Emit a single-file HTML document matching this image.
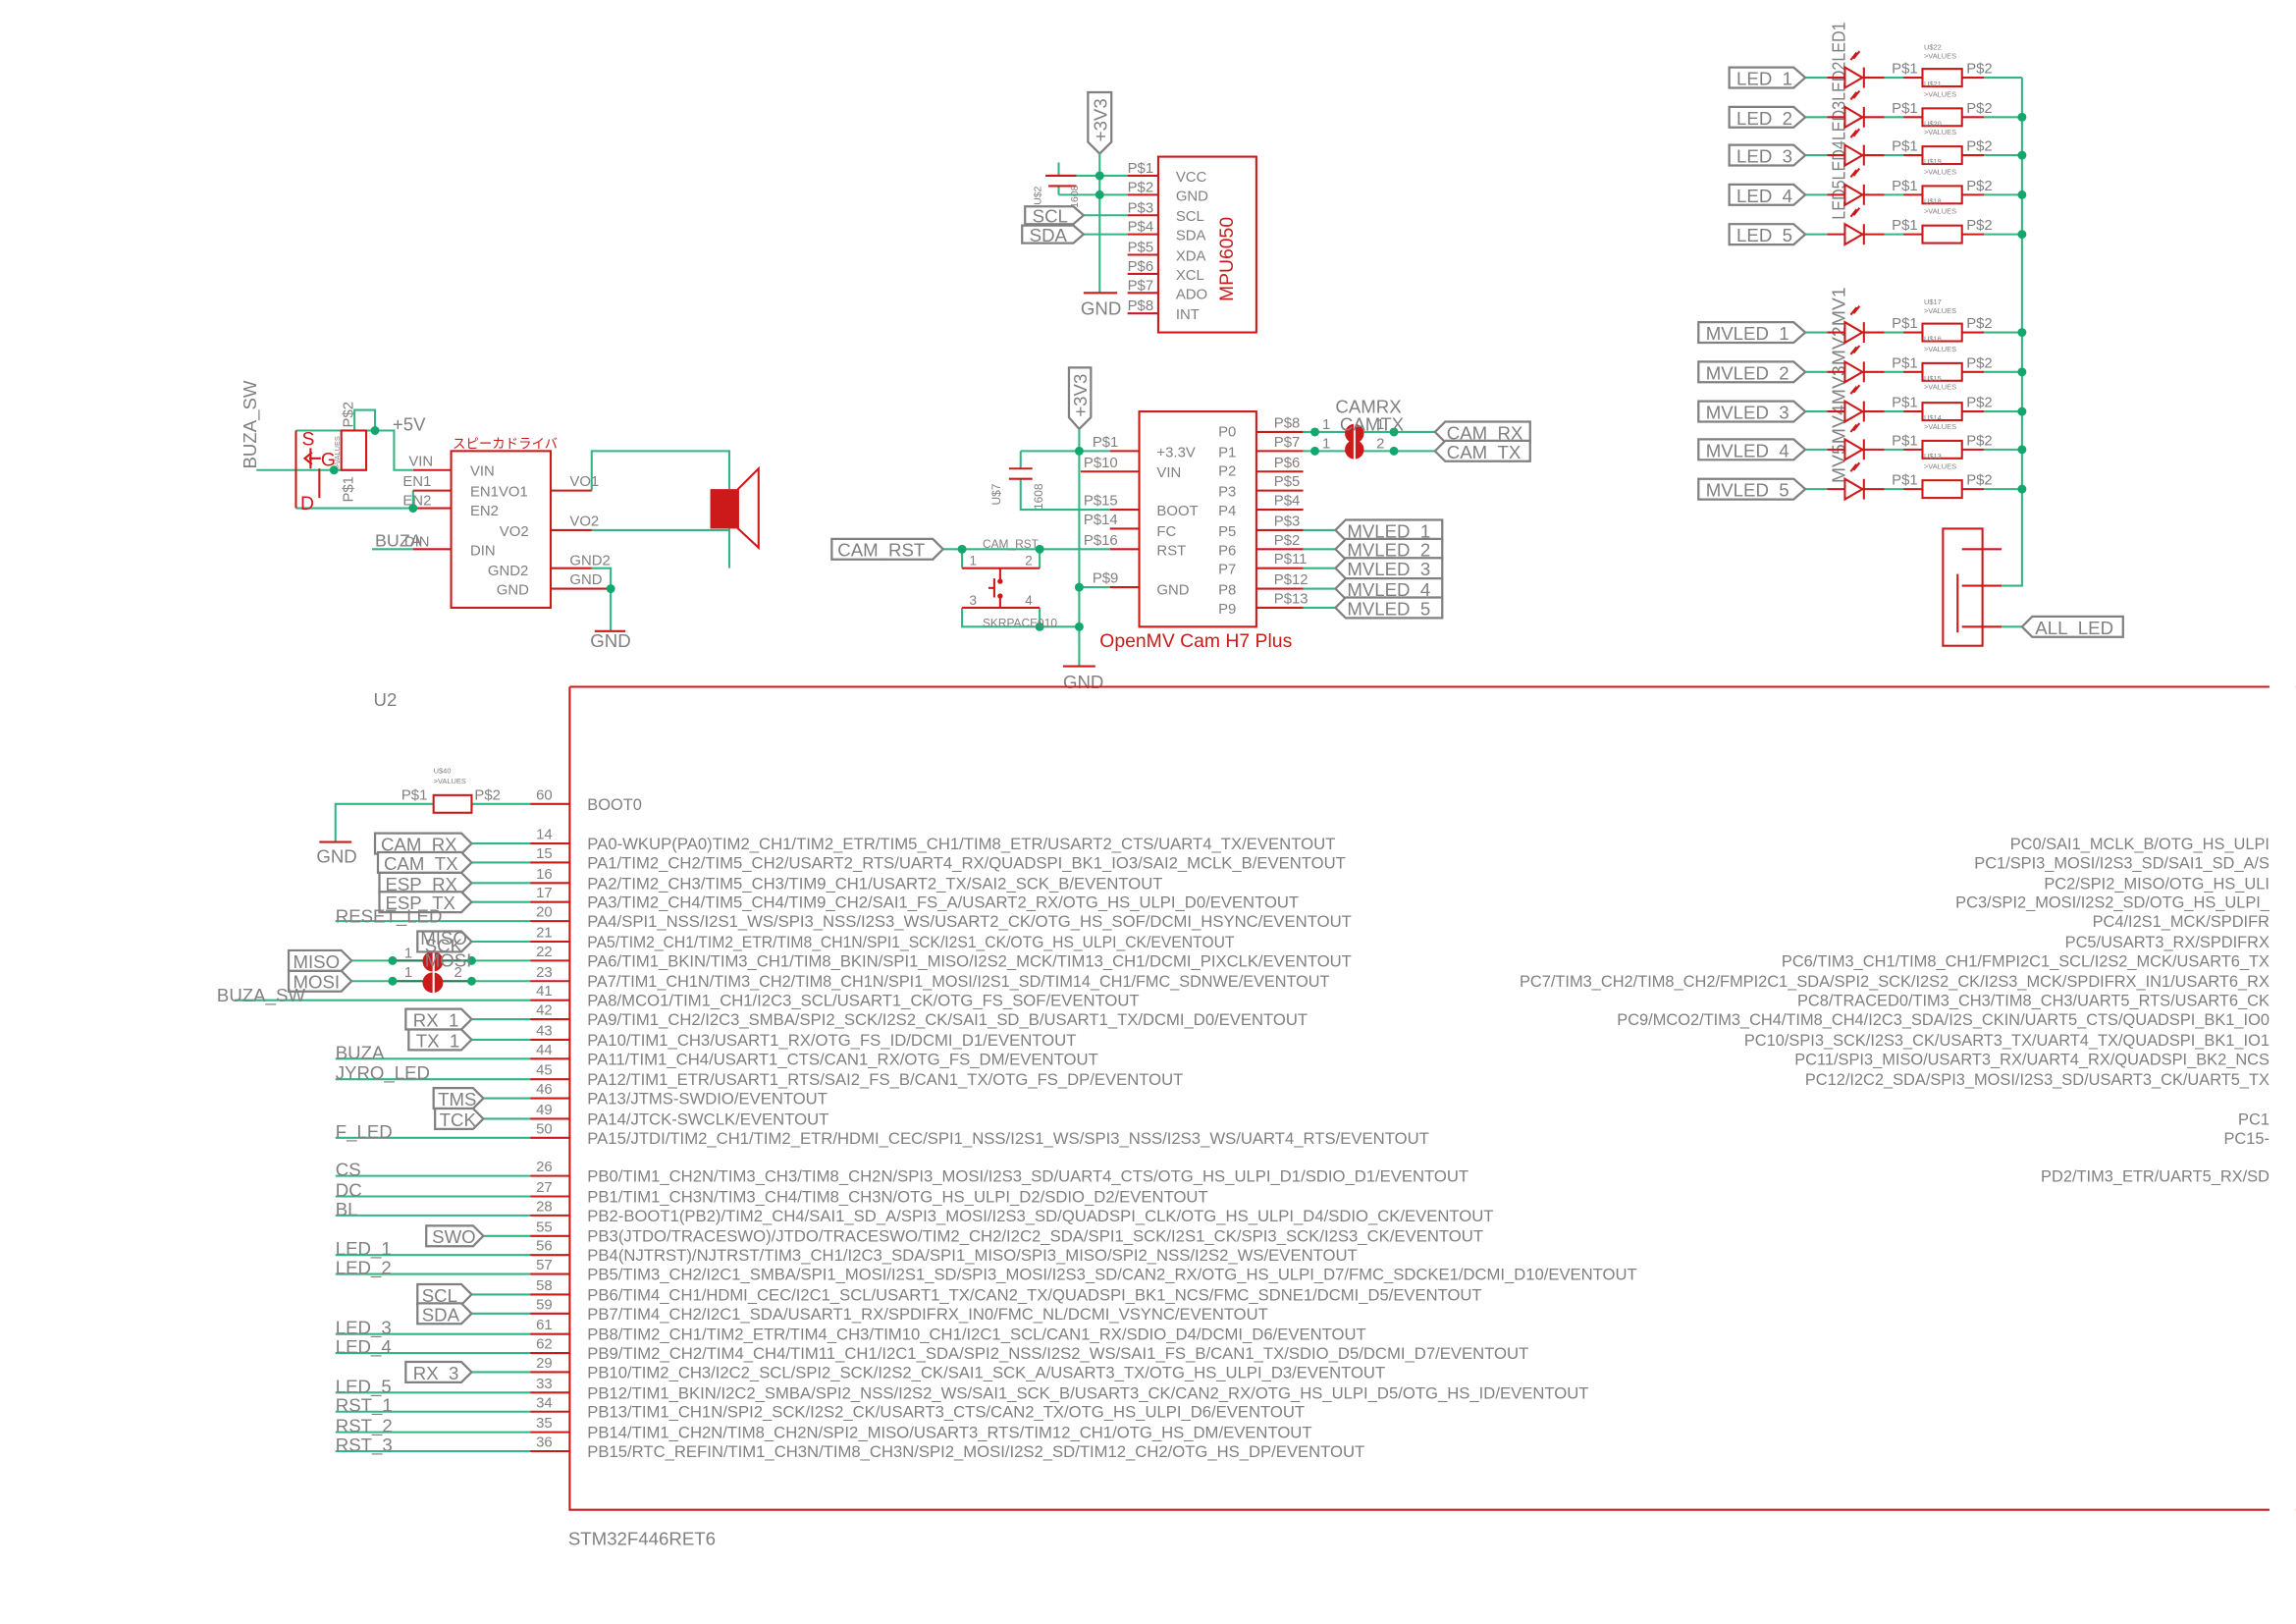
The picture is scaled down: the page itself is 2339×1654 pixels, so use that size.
<!DOCTYPE html>
<html><head><meta charset="utf-8"><style>
html,body{margin:0;padding:0;background:#fff;}
svg{display:block;}
text{font-family:"Liberation Sans","Noto Sans CJK JP",sans-serif;fill:#808080;}
.r{stroke:#cc1a1a;fill:none;stroke-width:1.4;}
.g{stroke:#34b584;fill:none;stroke-width:1.4;}
.b{stroke:#808080;fill:#fff;stroke-width:1.5;}
.rt{fill:#cc1a1a;}
.d{fill:#12a86d;}
.p{font-size:11px;}
.n{font-size:12.5px;}
.s{font-size:10px;}
.tiny{font-size:5px;}
</style></head><body>
<svg width="2339" height="1654" viewBox="0 0 1568 1109" xmlns="http://www.w3.org/2000/svg">
<rect width="1568" height="1109" fill="#fff"/>

<!-- ================= MPU6050 ================= -->
<polygon class="b" points="743,63 759,63 759,97 751,105 743,97"/>
<text class="n" transform="translate(756,82) rotate(-90)" text-anchor="middle">+3V3</text>
<path class="g" d="M751,105V200 M716,120H770 M723,133H770 M723,127V133 M723,111V120 M740,147H770 M740,160H770"/>
<path class="r" d="M714,120H735 M716,127H735 M740,200H763"/>
<circle class="d" cx="751" cy="120" r="3"/><circle class="d" cx="751" cy="133" r="3"/>
<text class="tiny" transform="translate(711,140) rotate(-90)" style="font-size:7px">U$2</text>
<text class="tiny" transform="translate(736,142) rotate(-90)" style="font-size:7px">1608</text>
<polygon class="b" points="700,141 733,141 740,147 733,153 700,153"/>
<text class="n" x="705" y="152">SCL</text>
<polygon class="b" points="698,154 733,154 740,160 733,166 698,166"/>
<text class="n" x="703" y="165">SDA</text>
<text class="n" x="738" y="215">GND</text>
<rect class="r" x="791" y="107" width="67" height="120"/>
<path class="r" d="M770,120H791 M770,133H791 M770,147H791 M770,160H791 M770,174H791 M770,187H791 M770,200H791 M770,214H791"/>
<g class="s"><text x="770" y="118">P$1</text><text x="770" y="131">P$2</text><text x="770" y="145">P$3</text><text x="770" y="158">P$4</text><text x="770" y="172">P$5</text><text x="770" y="185">P$6</text><text x="770" y="198">P$7</text><text x="770" y="212">P$8</text>
<text x="803" y="124">VCC</text><text x="803" y="137">GND</text><text x="803" y="151">SCL</text><text x="803" y="164">SDA</text><text x="803" y="178">XDA</text><text x="803" y="191">XCL</text><text x="803" y="204">ADO</text><text x="803" y="218">INT</text></g>
<text transform="translate(842,177) rotate(-90)" text-anchor="middle" style="font-size:13px;fill:#cc1a1a">MPU6050</text>

<!-- ================= OpenMV ================= -->
<polygon class="b" points="730,251 745,251 745,285 737,293 730,285"/>
<text class="n" transform="translate(742,270) rotate(-90)" text-anchor="middle">+3V3</text>
<path class="g" d="M737,293V455 M697,308H758 M697,308V320 M697,327V348H758 M644,375H758 M657,375V388 M710,375V388 M657,415V428H737 M710,415V428 M737,401H758"/>
<path class="r" d="M689,320H705 M689,327H705 M726,455H748 M657,388H710 M683,388V397 M657,415H710 M683,407V415 M679,395V408 M675,401.5H679"/>
<circle class="rt" cx="683" cy="397" r="1.8"/><circle class="rt" cx="683" cy="407" r="1.8"/>
<circle class="d" cx="737" cy="308" r="3"/><circle class="d" cx="737" cy="401" r="3"/><circle class="d" cx="737" cy="428" r="3"/>
<circle class="d" cx="657" cy="375" r="3"/><circle class="d" cx="710" cy="375" r="3"/><circle class="d" cx="710" cy="428" r="3"/>
<text transform="translate(683,345) rotate(-90)" style="font-size:8px">U$7</text>
<text transform="translate(712,348) rotate(-90)" style="font-size:8px">1608</text>
<polygon class="b" points="568,368 637,368 644,375 637,382 568,382"/>
<text class="n" x="572" y="380">CAM_RST</text>
<text style="font-size:8px" x="671" y="374">CAM_RST</text>
<text style="font-size:9px" x="662" y="386">1</text><text style="font-size:9px" x="700" y="386">2</text>
<text style="font-size:9px" x="662" y="413">3</text><text style="font-size:9px" x="700" y="413">4</text>
<text style="font-size:8px" x="671" y="428">SKRPACE010</text>
<text class="n" x="726" y="470">GND</text>
<rect class="r" x="778" y="281" width="80" height="147"/>
<path class="r" d="M758,308H778 M738,322H778 M758,348H778 M758,361H778 M758,375H778 M758,401H778"/>
<g class="s"><text x="746" y="305">P$1</text><text x="740" y="319">P$10</text><text x="740" y="345">P$15</text><text x="740" y="358">P$14</text><text x="740" y="372">P$16</text><text x="746" y="398">P$9</text>
<text x="790" y="312">+3.3V</text><text x="790" y="326">VIN</text><text x="790" y="352">BOOT</text><text x="790" y="366">FC</text><text x="790" y="379">RST</text><text x="790" y="406">GND</text>
<text x="832" y="298">P0</text><text x="832" y="312">P1</text><text x="832" y="325">P2</text><text x="832" y="339">P3</text><text x="832" y="352">P4</text><text x="832" y="366">P5</text><text x="832" y="379">P6</text><text x="832" y="392">P7</text><text x="832" y="406">P8</text><text x="832" y="419">P9</text>
<text x="870" y="292">P$8</text><text x="870" y="305">P$7</text><text x="870" y="319">P$6</text><text x="870" y="332">P$5</text><text x="870" y="345">P$4</text><text x="870" y="359">P$3</text><text x="870" y="372">P$2</text><text x="870" y="385">P$11</text><text x="870" y="399">P$12</text><text x="870" y="412">P$13</text></g>
<path class="r" d="M858,295H890 M858,308H890 M858,322H890 M858,335H890 M858,348H890 M858,362H890 M858,375H890 M858,388H890 M858,402H890 M858,415H890"/>
<path class="g" d="M890,295H980 M890,308H980 M890,362H912 M890,375H912 M890,388H912 M890,402H912 M890,415H912"/>
<circle class="d" cx="898" cy="295" r="3"/><circle class="d" cx="898" cy="308" r="3"/><circle class="d" cx="952" cy="295" r="3"/><circle class="d" cx="952" cy="308" r="3"/>
<circle class="rt" cx="925" cy="296" r="6.5"/><circle class="rt" cx="925" cy="307" r="6.5"/><rect x="924.4" y="288" width="1.3" height="27" fill="#fff"/>
<text class="n" x="912" y="282">CAMRX</text>
<text class="s" x="903" y="293">1</text><text class="n" x="915" y="294">CAMTX</text><text class="s" x="940" y="293">1</text>
<text class="s" x="903" y="306">1</text><text class="s" x="940" y="306">2</text>
<g>
<polygon class="b" points="980,295 987,288 1045,288 1045,302 987,302"/><text class="n" x="988" y="300">CAM_RX</text>
<polygon class="b" points="980,308 987,301 1045,301 1045,315 987,315"/><text class="n" x="988" y="313">CAM_TX</text>
<polygon class="b" points="912,362 919,355 985,355 985,369 919,369"/><text class="n" x="920" y="367">MVLED_1</text>
<polygon class="b" points="912,375 919,368 985,368 985,382 919,382"/><text class="n" x="920" y="380">MVLED_2</text>
<polygon class="b" points="912,388 919,381 985,381 985,395 919,395"/><text class="n" x="920" y="393">MVLED_3</text>
<polygon class="b" points="912,402 919,395 985,395 985,409 919,409"/><text class="n" x="920" y="407">MVLED_4</text>
<polygon class="b" points="912,415 919,408 985,408 985,422 919,422"/><text class="n" x="920" y="420">MVLED_5</text>
</g>
<text x="751" y="442" style="font-size:13px;fill:#cc1a1a">OpenMV Cam H7 Plus</text>

<!-- ================= Buzzer ================= -->
<text class="n" transform="translate(175,290) rotate(-90)" text-anchor="middle">BUZA_SW</text>
<path class="g" d="M175,321H250 M202,294H269V321H282 M242,294V280H256V294 M202,347H282 M282,335V347 M254,375H282 M404,335V308H498V334 M404,362H498 M498,361V388 M404,388H417V431"/>
<path class="r" d="M202,294V347 M282,321H308 M282,335H308 M282,347H308 M282,375H308 M376,335H404 M376,362H404 M376,388H404 M376,402H417 M406,431H427 M211,313H219 M212,306V320 M213,309L208,313L213,317 M218,320V340"/>
<rect class="r" x="233" y="294" width="17" height="27"/>
<circle class="d" cx="256" cy="294" r="3"/><circle class="d" cx="228" cy="321" r="3"/><circle class="d" cx="282" cy="347" r="3"/><circle class="d" cx="417" cy="402" r="3"/>
<text style="font-size:13px;fill:#cc1a1a" x="206" y="304">S</text>
<text style="font-size:13px;fill:#cc1a1a" x="219" y="318">G</text>
<text style="font-size:13px;fill:#cc1a1a" x="205" y="348">D</text>
<text class="s" transform="translate(241,292) rotate(-90)">P$2</text>
<text class="s" transform="translate(241,343) rotate(-90)">P$1</text>
<text style="font-size:5px" transform="translate(232,320) rotate(-90)">&gt;VALUES</text>
<text class="n" x="268" y="294">+5V</text>
<text style="font-size:9px;fill:#cc1a1a" x="309" y="306">スピーカドライバ</text>
<rect class="r" x="308" y="308" width="68" height="107"/>
<g class="s"><text x="279" y="318">VIN</text><text x="275" y="332">EN1</text><text x="275" y="345">EN2</text><text x="256" y="373" style="font-size:12px">BUZA</text><text x="276" y="373">DIN</text>
<text x="321" y="325">VIN</text><text x="321" y="339">EN1VO1</text><text x="321" y="352">EN2</text><text x="341" y="366">VO2</text><text x="321" y="379">DIN</text><text x="333" y="393">GND2</text><text x="339" y="406">GND</text>
<text x="389" y="332">VO1</text><text x="389" y="359">VO2</text><text x="389" y="386">GND2</text><text x="389" y="399">GND</text></g>
<text class="n" x="403" y="442">GND</text>
<rect x="485" y="334" width="19" height="27" fill="#cc1a1a"/>
<polygon points="504,334 518,320 518,374 504,361" fill="none" stroke="#cc1a1a" stroke-width="1.4"/>

<!-- ================= LEDs ================= -->
<text class="n" transform="translate(1260,150) rotate(-90)" textLength="135" lengthAdjust="spacingAndGlyphs">LED5LED4LED3LED2LED1</text>
<text class="n" transform="translate(1260,330) rotate(-90)" textLength="134" lengthAdjust="spacingAndGlyphs">MV5MV4MV3MV2MV1</text>
<path class="g" d="M1381,53V400H1367 M1367,428H1381"/>
<path class="r" d="M1340,375H1367 M1340,400H1367 M1340,428H1367 M1337,392V432"/>
<rect class="r" x="1327" y="361" width="27" height="80"/>
<polygon class="b" points="1381,428 1388,421 1450,421 1450,435 1388,435"/><text class="n" x="1390" y="433">ALL_LED</text>

<!-- LED rows -->
<g id="ledrows">
<!-- row template repeated -->
<path class="g" d="M1233,53H1248 M1287,53H1300 M1355,53H1381 M1233,80H1248 M1287,80H1300 M1355,80H1381 M1233,106H1248 M1287,106H1300 M1355,106H1381 M1233,133H1248 M1287,133H1300 M1355,133H1381 M1233,160H1248 M1287,160H1300 M1355,160H1381 M1233,227H1248 M1287,227H1300 M1355,227H1381 M1233,254H1248 M1287,254H1300 M1355,254H1381 M1233,281H1248 M1287,281H1300 M1355,281H1381 M1233,307H1248 M1287,307H1300 M1355,307H1381 M1233,334H1248 M1287,334H1300 M1355,334H1381"/>
<path class="r" d="M1248,53H1260 M1273,53H1287 M1300,53H1313 M1340,53H1355 M1260,46V60L1272,53Z M1273,46V60 M1264,41L1268,36L1266,40L1270,35
M1248,80H1260 M1273,80H1287 M1300,80H1313 M1340,80H1355 M1260,73V87L1272,80Z M1273,73V87 M1264,68L1268,63L1266,67L1270,62
M1248,106H1260 M1273,106H1287 M1300,106H1313 M1340,106H1355 M1260,99V113L1272,106Z M1273,99V113 M1264,94L1268,89L1266,93L1270,88
M1248,133H1260 M1273,133H1287 M1300,133H1313 M1340,133H1355 M1260,126V140L1272,133Z M1273,126V140 M1264,121L1268,116L1266,120L1270,115
M1248,160H1260 M1273,160H1287 M1300,160H1313 M1340,160H1355 M1260,153V167L1272,160Z M1273,153V167 M1264,148L1268,143L1266,147L1270,142
M1248,227H1260 M1273,227H1287 M1300,227H1313 M1340,227H1355 M1260,220V234L1272,227Z M1273,220V234 M1264,215L1268,210L1266,214L1270,209
M1248,254H1260 M1273,254H1287 M1300,254H1313 M1340,254H1355 M1260,247V261L1272,254Z M1273,247V261 M1264,242L1268,237L1266,241L1270,236
M1248,281H1260 M1273,281H1287 M1300,281H1313 M1340,281H1355 M1260,274V288L1272,281Z M1273,274V288 M1264,269L1268,264L1266,268L1270,263
M1248,307H1260 M1273,307H1287 M1300,307H1313 M1340,307H1355 M1260,300V314L1272,307Z M1273,300V314 M1264,295L1268,290L1266,294L1270,289
M1248,334H1260 M1273,334H1287 M1300,334H1313 M1340,334H1355 M1260,327V341L1272,334Z M1273,327V341 M1264,322L1268,317L1266,321L1270,316"/>
<g fill="#fff" stroke="#cc1a1a" stroke-width="1.4">
<rect x="1313" y="47" width="27" height="12"/><rect x="1313" y="74" width="27" height="12"/><rect x="1313" y="100" width="27" height="12"/><rect x="1313" y="127" width="27" height="12"/><rect x="1313" y="154" width="27" height="12"/>
<rect x="1313" y="221" width="27" height="12"/><rect x="1313" y="248" width="27" height="12"/><rect x="1313" y="275" width="27" height="12"/><rect x="1313" y="301" width="27" height="12"/><rect x="1313" y="328" width="27" height="12"/>
</g>
<g class="s">
<text x="1292" y="50">P$1</text><text x="1343" y="50">P$2</text>
<text x="1292" y="77">P$1</text><text x="1343" y="77">P$2</text>
<text x="1292" y="103">P$1</text><text x="1343" y="103">P$2</text>
<text x="1292" y="130">P$1</text><text x="1343" y="130">P$2</text>
<text x="1292" y="157">P$1</text><text x="1343" y="157">P$2</text>
<text x="1292" y="224">P$1</text><text x="1343" y="224">P$2</text>
<text x="1292" y="251">P$1</text><text x="1343" y="251">P$2</text>
<text x="1292" y="278">P$1</text><text x="1343" y="278">P$2</text>
<text x="1292" y="304">P$1</text><text x="1343" y="304">P$2</text>
<text x="1292" y="331">P$1</text><text x="1343" y="331">P$2</text>
</g>
<g class="tiny">
<text x="1314" y="34">U$22</text><text x="1314" y="40">&gt;VALUES</text>
<text x="1314" y="59">U$21</text><text x="1314" y="66">&gt;VALUES</text>
<text x="1314" y="86">U$20</text><text x="1314" y="92">&gt;VALUES</text>
<text x="1314" y="112">U$19</text><text x="1314" y="119">&gt;VALUES</text>
<text x="1314" y="139">U$18</text><text x="1314" y="146">&gt;VALUES</text>
<text x="1314" y="208">U$17</text><text x="1314" y="214">&gt;VALUES</text>
<text x="1314" y="233">U$16</text><text x="1314" y="240">&gt;VALUES</text>
<text x="1314" y="260">U$15</text><text x="1314" y="266">&gt;VALUES</text>
<text x="1314" y="287">U$14</text><text x="1314" y="293">&gt;VALUES</text>
<text x="1314" y="313">U$13</text><text x="1314" y="320">&gt;VALUES</text>
</g>
</g>
<g>
<circle class="d" cx="1381" cy="80" r="3"/><circle class="d" cx="1381" cy="106" r="3"/><circle class="d" cx="1381" cy="133" r="3"/><circle class="d" cx="1381" cy="160" r="3"/>
<circle class="d" cx="1381" cy="227" r="3"/><circle class="d" cx="1381" cy="254" r="3"/><circle class="d" cx="1381" cy="281" r="3"/><circle class="d" cx="1381" cy="307" r="3"/><circle class="d" cx="1381" cy="334" r="3"/>
</g>
<g>
<polygon class="b" points="1181,46 1225,46 1233,53 1225,60 1181,60"/><text class="n" x="1186" y="58">LED_1</text>
<polygon class="b" points="1181,73 1225,73 1233,80 1225,87 1181,87"/><text class="n" x="1186" y="85">LED_2</text>
<polygon class="b" points="1181,99 1225,99 1233,106 1225,113 1181,113"/><text class="n" x="1186" y="111">LED_3</text>
<polygon class="b" points="1181,126 1225,126 1233,133 1225,140 1181,140"/><text class="n" x="1186" y="138">LED_4</text>
<polygon class="b" points="1181,153 1225,153 1233,160 1225,167 1181,167"/><text class="n" x="1186" y="165">LED_5</text>
<polygon class="b" points="1160,220 1225,220 1233,227 1225,234 1160,234"/><text class="n" x="1165" y="232">MVLED_1</text>
<polygon class="b" points="1160,247 1225,247 1233,254 1225,261 1160,261"/><text class="n" x="1165" y="259">MVLED_2</text>
<polygon class="b" points="1160,274 1225,274 1233,281 1225,288 1160,288"/><text class="n" x="1165" y="286">MVLED_3</text>
<polygon class="b" points="1160,300 1225,300 1233,307 1225,314 1160,314"/><text class="n" x="1165" y="312">MVLED_4</text>
<polygon class="b" points="1160,327 1225,327 1233,334 1225,341 1160,341"/><text class="n" x="1165" y="339">MVLED_5</text>
</g>

<!-- ================= STM32 ================= -->
<text class="n" x="255" y="482">U2</text>
<text class="n" x="388" y="1055">STM32F446RET6</text>
<path class="r" d="M389,469H1568 M389,469V1031H1568"/>
<!-- pin stubs -->
<path class="r" d="M362,549H389 M362,576H389 M362,589H389 M362,603H389 M362,616H389 M362,629H389 M362,643H389 M362,656H389 M362,670H389 M362,683H389 M362,696H389 M362,710H389 M362,723H389 M362,737H389 M362,750H389 M362,764H389 M362,777H389 M362,803H389 M362,817H389 M362,830H389 M362,844H389 M362,857H389 M362,870H389 M362,884H389 M362,897H389 M362,911H389 M362,924H389 M362,937H389 M362,951H389 M362,964H389 M362,978H389 M362,991H389"/>
<path class="g" d="M229,575V549H296 M322,549H362 M322,576H362 M322,589H362 M322,603H362 M322,616H362 M229,629H362 M322,643H362 M240,656H362 M240,670H362 M160,683H362 M322,696H362 M322,710H362 M229,723H362 M229,737H362 M330,750H362 M330,764H362 M229,777H362 M229,803H362 M229,817H362 M229,830H362 M330,844H362 M229,857H362 M229,870H362 M322,884H362 M322,897H362 M229,911H362 M229,924H362 M322,937H362 M229,951H362 M229,964H362 M229,978H362 M229,991H362"/>
<path stroke="#2a7a55" stroke-width="1.4" d="M268,656H322 M268,670H322"/>
<path class="r" d="M218,575H240"/>
<rect class="r" x="296" y="543" width="26" height="12"/>
<text class="tiny" x="296" y="528">U$40</text><text class="tiny" x="296" y="535">&gt;VALUES</text>
<text class="s" x="274" y="546">P$1</text><text class="s" x="324" y="546">P$2</text>
<text class="n" x="216" y="589">GND</text>
<circle class="d" cx="268" cy="656" r="3"/><circle class="d" cx="322" cy="656" r="3"/><circle class="d" cx="268" cy="670" r="3"/><circle class="d" cx="322" cy="670" r="3"/>
<circle class="rt" cx="295.5" cy="656.5" r="7"/><circle class="rt" cx="295.5" cy="671" r="7"/><rect x="295.3" y="648" width="1.4" height="32" fill="#fff"/>
<text class="s" x="276" y="654">1</text><text class="s" x="276" y="667">1</text><text class="s" x="310" y="667">2</text>
<g class="s">
<text x="366" y="546">60</text><text x="366" y="573">14</text><text x="366" y="586">15</text><text x="366" y="600">16</text><text x="366" y="613">17</text><text x="366" y="626">20</text><text x="366" y="640">21</text><text x="366" y="653">22</text><text x="366" y="667">23</text><text x="366" y="680">41</text><text x="366" y="693">42</text><text x="366" y="707">43</text><text x="366" y="720">44</text><text x="366" y="734">45</text><text x="366" y="747">46</text><text x="366" y="761">49</text><text x="366" y="774">50</text>
<text x="366" y="800">26</text><text x="366" y="814">27</text><text x="366" y="827">28</text><text x="366" y="841">55</text><text x="366" y="854">56</text><text x="366" y="867">57</text><text x="366" y="881">58</text><text x="366" y="894">59</text><text x="366" y="908">61</text><text x="366" y="921">62</text><text x="366" y="934">29</text><text x="366" y="948">33</text><text x="366" y="961">34</text><text x="366" y="975">35</text><text x="366" y="988">36</text>
</g>
<!-- left net labels -->
<g>
<polygon class="b" points="256,569 315,569 322,576 315,583 256,583"/><text class="n" x="260" y="581">CAM_RX</text>
<polygon class="b" points="258,582 315,582 322,589 315,596 258,596"/><text class="n" x="262" y="594">CAM_TX</text>
<polygon class="b" points="259,596 315,596 322,603 315,610 259,610"/><text class="n" x="263" y="608">ESP_RX</text>
<polygon class="b" points="259,609 315,609 322,616 315,623 259,623"/><text class="n" x="263" y="621">ESP_TX</text>
<text class="n" x="229" y="630">RESET_LED</text>
<polygon class="b" points="285,636 315,636 322,643 315,650 285,650"/><text class="n" x="287" y="645">MISO</text><text class="n" x="290" y="650">SCK</text><text class="n" x="290" y="660">MOSI</text>
<polygon class="b" points="197,649 233,649 240,656 233,663 197,663"/><text class="n" x="200" y="661">MISO</text>
<polygon class="b" points="197,663 233,663 240,670 233,677 197,677"/><text class="n" x="200" y="675">MOSI</text>
<text class="n" x="148" y="684">BUZA_SW</text>
<polygon class="b" points="277,689 315,689 322,696 315,703 277,703"/><text class="n" x="282" y="701">RX_1</text>
<polygon class="b" points="279,703 315,703 322,710 315,717 279,717"/><text class="n" x="284" y="715">TX_1</text>
<text class="n" x="229" y="723">BUZA</text>
<text class="n" x="229" y="737">JYRO_LED</text>
<polygon class="b" points="296,743 323,743 330,750 323,757 296,757"/><text class="n" x="299" y="755">TMS</text>
<polygon class="b" points="297,757 323,757 330,764 323,771 297,771"/><text class="n" x="300" y="769">TCK</text>
<text class="n" x="229" y="777">F_LED</text>
<text class="n" x="229" y="803">CS</text><text class="n" x="229" y="817">DC</text><text class="n" x="229" y="830">BL</text>
<polygon class="b" points="291,837 323,837 330,844 323,851 291,851"/><text class="n" x="295" y="849">SWO</text>
<text class="n" x="229" y="857">LED_1</text><text class="n" x="229" y="870">LED_2</text>
<polygon class="b" points="285,877 315,877 322,884 315,891 285,891"/><text class="n" x="288" y="889">SCL</text>
<polygon class="b" points="285,890 315,890 322,897 315,904 285,904"/><text class="n" x="288" y="902">SDA</text>
<text class="n" x="229" y="911">LED_3</text><text class="n" x="229" y="924">LED_4</text>
<polygon class="b" points="277,930 315,930 322,937 315,944 277,944"/><text class="n" x="282" y="942">RX_3</text>
<text class="n" x="229" y="951">LED_5</text><text class="n" x="229" y="964">RST_1</text><text class="n" x="229" y="978">RST_2</text><text class="n" x="229" y="991">RST_3</text>
</g>
<!-- pin names -->
<g class="p">
<text x="401" y="553">BOOT0</text>
<text x="401" y="580" textLength="511" lengthAdjust="spacingAndGlyphs">PA0-WKUP(PA0)TIM2_CH1/TIM2_ETR/TIM5_CH1/TIM8_ETR/USART2_CTS/UART4_TX/EVENTOUT</text>
<text x="401" y="593" textLength="518" lengthAdjust="spacingAndGlyphs">PA1/TIM2_CH2/TIM5_CH2/USART2_RTS/UART4_RX/QUADSPI_BK1_IO3/SAI2_MCLK_B/EVENTOUT</text>
<text x="401" y="607" textLength="393" lengthAdjust="spacingAndGlyphs">PA2/TIM2_CH3/TIM5_CH3/TIM9_CH1/USART2_TX/SAI2_SCK_B/EVENTOUT</text>
<text x="401" y="620" textLength="486" lengthAdjust="spacingAndGlyphs">PA3/TIM2_CH4/TIM5_CH4/TIM9_CH2/SAI1_FS_A/USART2_RX/OTG_HS_ULPI_D0/EVENTOUT</text>
<text x="401" y="633" textLength="522" lengthAdjust="spacingAndGlyphs">PA4/SPI1_NSS/I2S1_WS/SPI3_NSS/I2S3_WS/USART2_CK/OTG_HS_SOF/DCMI_HSYNC/EVENTOUT</text>
<text x="401" y="647" textLength="442" lengthAdjust="spacingAndGlyphs">PA5/TIM2_CH1/TIM2_ETR/TIM8_CH1N/SPI1_SCK/I2S1_CK/OTG_HS_ULPI_CK/EVENTOUT</text>
<text x="401" y="660" textLength="522" lengthAdjust="spacingAndGlyphs">PA6/TIM1_BKIN/TIM3_CH1/TIM8_BKIN/SPI1_MISO/I2S2_MCK/TIM13_CH1/DCMI_PIXCLK/EVENTOUT</text>
<text x="401" y="674" textLength="507" lengthAdjust="spacingAndGlyphs">PA7/TIM1_CH1N/TIM3_CH2/TIM8_CH1N/SPI1_MOSI/I2S1_SD/TIM14_CH1/FMC_SDNWE/EVENTOUT</text>
<text x="401" y="687" textLength="377" lengthAdjust="spacingAndGlyphs">PA8/MCO1/TIM1_CH1/I2C3_SCL/USART1_CK/OTG_FS_SOF/EVENTOUT</text>
<text x="401" y="700" textLength="492" lengthAdjust="spacingAndGlyphs">PA9/TIM1_CH2/I2C3_SMBA/SPI2_SCK/I2S2_CK/SAI1_SD_B/USART1_TX/DCMI_D0/EVENTOUT</text>
<text x="401" y="714" textLength="334" lengthAdjust="spacingAndGlyphs">PA10/TIM1_CH3/USART1_RX/OTG_FS_ID/DCMI_D1/EVENTOUT</text>
<text x="401" y="727" textLength="349" lengthAdjust="spacingAndGlyphs">PA11/TIM1_CH4/USART1_CTS/CAN1_RX/OTG_FS_DM/EVENTOUT</text>
<text x="401" y="741" textLength="407" lengthAdjust="spacingAndGlyphs">PA12/TIM1_ETR/USART1_RTS/SAI2_FS_B/CAN1_TX/OTG_FS_DP/EVENTOUT</text>
<text x="401" y="754" textLength="164" lengthAdjust="spacingAndGlyphs">PA13/JTMS-SWDIO/EVENTOUT</text>
<text x="401" y="768" textLength="165" lengthAdjust="spacingAndGlyphs">PA14/JTCK-SWCLK/EVENTOUT</text>
<text x="401" y="781" textLength="575" lengthAdjust="spacingAndGlyphs">PA15/JTDI/TIM2_CH1/TIM2_ETR/HDMI_CEC/SPI1_NSS/I2S1_WS/SPI3_NSS/I2S3_WS/UART4_RTS/EVENTOUT</text>
<text x="401" y="807" textLength="602" lengthAdjust="spacingAndGlyphs">PB0/TIM1_CH2N/TIM3_CH3/TIM8_CH2N/SPI3_MOSI/I2S3_SD/UART4_CTS/OTG_HS_ULPI_D1/SDIO_D1/EVENTOUT</text>
<text x="401" y="821" textLength="424" lengthAdjust="spacingAndGlyphs">PB1/TIM1_CH3N/TIM3_CH4/TIM8_CH3N/OTG_HS_ULPI_D2/SDIO_D2/EVENTOUT</text>
<text x="401" y="834" textLength="619" lengthAdjust="spacingAndGlyphs">PB2-BOOT1(PB2)/TIM2_CH4/SAI1_SD_A/SPI3_MOSI/I2S3_SD/QUADSPI_CLK/OTG_HS_ULPI_D4/SDIO_CK/EVENTOUT</text>
<text x="401" y="848" textLength="612" lengthAdjust="spacingAndGlyphs">PB3(JTDO/TRACESWO)/JTDO/TRACESWO/TIM2_CH2/I2C2_SDA/SPI1_SCK/I2S1_CK/SPI3_SCK/I2S3_CK/EVENTOUT</text>
<text x="401" y="861" textLength="526" lengthAdjust="spacingAndGlyphs">PB4(NJTRST)/NJTRST/TIM3_CH1/I2C3_SDA/SPI1_MISO/SPI3_MISO/SPI2_NSS/I2S2_WS/EVENTOUT</text>
<text x="401" y="874" textLength="717" lengthAdjust="spacingAndGlyphs">PB5/TIM3_CH2/I2C1_SMBA/SPI1_MOSI/I2S1_SD/SPI3_MOSI/I2S3_SD/CAN2_RX/OTG_HS_ULPI_D7/FMC_SDCKE1/DCMI_D10/EVENTOUT</text>
<text x="401" y="888" textLength="611" lengthAdjust="spacingAndGlyphs">PB6/TIM4_CH1/HDMI_CEC/I2C1_SCL/USART1_TX/CAN2_TX/QUADSPI_BK1_NCS/FMC_SDNE1/DCMI_D5/EVENTOUT</text>
<text x="401" y="901" textLength="465" lengthAdjust="spacingAndGlyphs">PB7/TIM4_CH2/I2C1_SDA/USART1_RX/SPDIFRX_IN0/FMC_NL/DCMI_VSYNC/EVENTOUT</text>
<text x="401" y="915" textLength="532" lengthAdjust="spacingAndGlyphs">PB8/TIM2_CH1/TIM2_ETR/TIM4_CH3/TIM10_CH1/I2C1_SCL/CAN1_RX/SDIO_D4/DCMI_D6/EVENTOUT</text>
<text x="401" y="928" textLength="643" lengthAdjust="spacingAndGlyphs">PB9/TIM2_CH2/TIM4_CH4/TIM11_CH1/I2C1_SDA/SPI2_NSS/I2S2_WS/SAI1_FS_B/CAN1_TX/SDIO_D5/DCMI_D7/EVENTOUT</text>
<text x="401" y="941" textLength="545" lengthAdjust="spacingAndGlyphs">PB10/TIM2_CH3/I2C2_SCL/SPI2_SCK/I2S2_CK/SAI1_SCK_A/USART3_TX/OTG_HS_ULPI_D3/EVENTOUT</text>
<text x="401" y="955" textLength="684" lengthAdjust="spacingAndGlyphs">PB12/TIM1_BKIN/I2C2_SMBA/SPI2_NSS/I2S2_WS/SAI1_SCK_B/USART3_CK/CAN2_RX/OTG_HS_ULPI_D5/OTG_HS_ID/EVENTOUT</text>
<text x="401" y="968" textLength="490" lengthAdjust="spacingAndGlyphs">PB13/TIM1_CH1N/SPI2_SCK/I2S2_CK/USART3_CTS/CAN2_TX/OTG_HS_ULPI_D6/EVENTOUT</text>
<text x="401" y="982" textLength="495" lengthAdjust="spacingAndGlyphs">PB14/TIM1_CH2N/TIM8_CH2N/SPI2_MISO/USART3_RTS/TIM12_CH1/OTG_HS_DM/EVENTOUT</text>
<text x="401" y="995" textLength="531" lengthAdjust="spacingAndGlyphs">PB15/RTC_REFIN/TIM1_CH3N/TIM8_CH3N/SPI2_MOSI/I2S2_SD/TIM12_CH2/OTG_HS_DP/EVENTOUT</text>
</g>
<!-- right column (clipped) -->
<g class="p" text-anchor="end">
<text x="1550" y="580">PC0/SAI1_MCLK_B/OTG_HS_ULPI</text>
<text x="1550" y="593">PC1/SPI3_MOSI/I2S3_SD/SAI1_SD_A/S</text>
<text x="1550" y="607">PC2/SPI2_MISO/OTG_HS_ULI</text>
<text x="1550" y="620">PC3/SPI2_MOSI/I2S2_SD/OTG_HS_ULPI_</text>
<text x="1550" y="633">PC4/I2S1_MCK/SPDIFR</text>
<text x="1550" y="647">PC5/USART3_RX/SPDIFRX</text>
<text x="1550" y="660">PC6/TIM3_CH1/TIM8_CH1/FMPI2C1_SCL/I2S2_MCK/USART6_TX</text>
<text x="1550" y="674">PC7/TIM3_CH2/TIM8_CH2/FMPI2C1_SDA/SPI2_SCK/I2S2_CK/I2S3_MCK/SPDIFRX_IN1/USART6_RX</text>
<text x="1550" y="687">PC8/TRACED0/TIM3_CH3/TIM8_CH3/UART5_RTS/USART6_CK</text>
<text x="1550" y="700">PC9/MCO2/TIM3_CH4/TIM8_CH4/I2C3_SDA/I2S_CKIN/UART5_CTS/QUADSPI_BK1_IO0</text>
<text x="1550" y="714">PC10/SPI3_SCK/I2S3_CK/USART3_TX/UART4_TX/QUADSPI_BK1_IO1</text>
<text x="1550" y="727">PC11/SPI3_MISO/USART3_RX/UART4_RX/QUADSPI_BK2_NCS</text>
<text x="1550" y="741">PC12/I2C2_SDA/SPI3_MOSI/I2S3_SD/USART3_CK/UART5_TX</text>
<text x="1550" y="768">PC1</text>
<text x="1550" y="781">PC15-</text>
<text x="1550" y="807">PD2/TIM3_ETR/UART5_RX/SD</text>
</g>
<rect x="1550" y="0" width="18" height="1109" fill="#fff"/>
</svg>
</body></html>
